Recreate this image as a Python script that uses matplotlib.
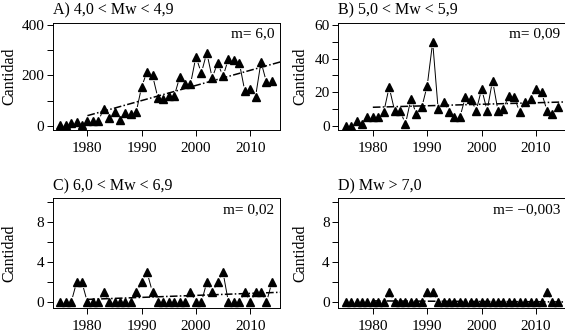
import numpy as np
import matplotlib
matplotlib.use("Agg")
import matplotlib.pyplot as plt

plt.rcParams['font.family'] = ['Liberation Serif', 'DejaVu Serif']

years = list(range(1975, 2015))

cnt_a = [2, 2, 10, 15, 3, 20, 20, 20, 65, 32, 55, 22, 50, 45, 55, 155, 215, 200, 110, 107,
         118, 118, 192, 165, 165, 274, 209, 290, 190, 250, 196, 266, 260, 250, 139, 144, 116, 254, 173, 178]
cnt_b = [0, 0, 3, 1, 5, 5, 5, 8, 23, 9, 9, 1, 16, 7, 11, 24, 50, 10, 14, 8,
         5, 5, 17, 16, 9, 22, 9, 27, 9, 10, 18, 17, 8, 14, 16, 22, 20, 9, 7, 11]
cnt_c = [0, 0, 0, 2, 2, 0, 0, 0, 1, 0, 0, 0, 0, 0, 1, 2, 3, 1, 0, 0,
         0, 0, 0, 0, 1, 0, 0, 2, 1, 2, 3, 0, 0, 0, 1, 0, 1, 1, 0, 2]
cnt_d = [0, 0, 0, 0, 0, 0, 0, 0, 1, 0, 0, 0, 0, 0, 0, 1, 1, 0, 0, 0,
         0, 0, 0, 0, 0, 0, 0, 0, 0, 0, 0, 0, 0, 0, 0, 0, 0, 1, 0, 0]

titles = ["A) 4,0 < Mw < 4,9", "B) 5,0 < Mw < 5,9", "C) 6,0 < Mw < 6,9", "D) Mw > 7,0"]
slopes = ["m= 6,0", "m= 0,09", "m= 0,02", "m= \u22120,003"]
# recta de tendencia: valor en 1980 y pendiente
trend_start = [40, 11, 0.3, 0.15]
trend_slope = [6.0, 0.09, 0.02, -0.003]

ylims = [(-17, 408), (-2.6, 61.4), (-0.53, 10.4), (-0.53, 10.4)]
yticks = [range(0, 401, 100), range(0, 61, 10), range(0, 11, 2), range(0, 11, 2)]
ylabs = [[0, 200, 400], [0, 20, 40, 60], [0, 4, 8], [0, 4, 8]]

W, H = 565, 335
boxes = [(52.7, 23, 280, 130), (338, 23, 566, 130),
         (52.7, 198.3, 280, 307.7), (338, 198.3, 566, 307.7)]
ylab_x = [9.5, 300, 9.5, 300]

fig = plt.figure(figsize=(W / 100, H / 100), dpi=100)
data = [cnt_a, cnt_b, cnt_c, cnt_d]

for i, (x0, y0, x1, y1) in enumerate(boxes):
    ax = fig.add_axes([x0 / W, 1 - y1 / H, (x1 - x0) / W, (y1 - y0) / H])
    ax.plot(years, data[i], color='black', lw=0.7, zorder=1)
    ax.plot(years, data[i], 'o', ms=7, mfc='white', mec='white', zorder=2)
    xt = np.array([1980, 2016])
    ax.plot(xt, trend_start[i] + trend_slope[i] * (xt - 1980), color='black', lw=1.1,
            ls=(0, (5, 1.5, 1, 1.5)), zorder=3)
    ax.plot(years, data[i], '^', ms=5.5, color='black', zorder=4)
    ax.set_xlim(1973.6, 2015.5)
    ax.set_ylim(*ylims[i])
    ax.set_xticks([1980, 1990, 2000, 2010])
    ax.set_yticks(list(yticks[i]))
    ax.set_yticklabels([str(v) if v in ylabs[i] else '' for v in yticks[i]])
    ax.tick_params(labelsize=11, length=4, width=0.7, pad=2)
    ax.tick_params(axis='x', pad=5)
    for s in ax.spines.values():
        s.set_linewidth(0.7)
    ax.set_ylabel("Cantidad", fontsize=11.5, va='center')
    ax.yaxis.set_label_coords((ylab_x[i] - x0) / (x1 - x0), 0.5)
    ax.text(0.0, 1.04, titles[i], transform=ax.transAxes, fontsize=11.5, ha='left', va='bottom')
    ax.text(0.975, 0.9, slopes[i], transform=ax.transAxes, fontsize=11, ha='right', va='center')

fig.savefig("out.png", dpi=100)
